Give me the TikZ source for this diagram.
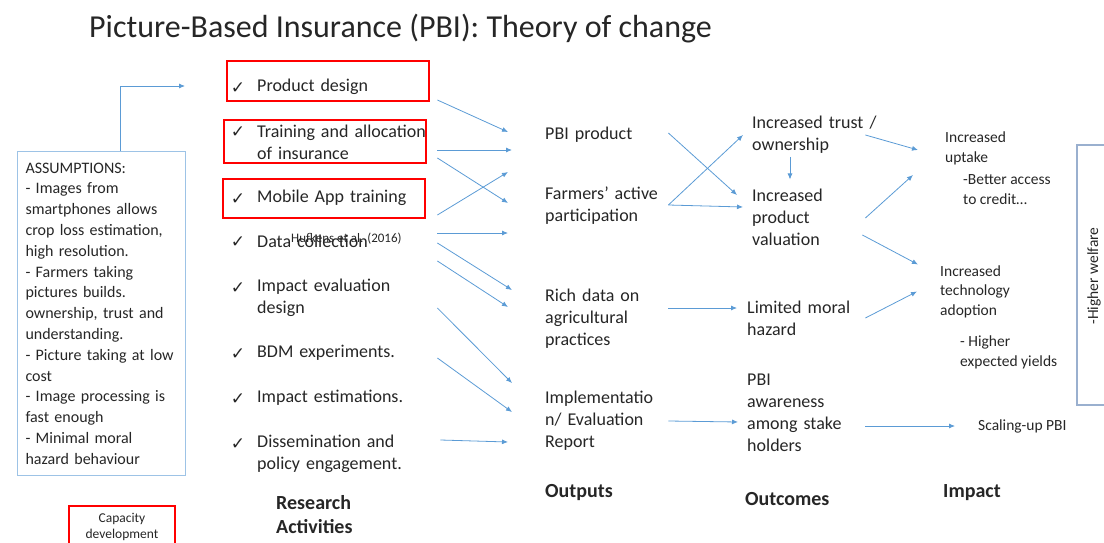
\documentclass[tikz,border=0pt]{standalone}
\usepackage{fontspec}
\setmainfont{Carlito}
\newfontfamily\symfont{DejaVu Sans}
\usetikzlibrary{arrows.meta}

\definecolor{ink}{HTML}{262626}
\definecolor{arrowblue}{HTML}{5B9BD5}
\definecolor{boxblue}{HTML}{9DC3E6}
\definecolor{welfblue}{HTML}{9AB0CF}

\tikzset{
  arr/.style={-{Latex[length=6pt,width=5pt]}, arrowblue, line width=0.8pt},
  redbox/.style={draw=red, line width=1.3pt},
  ttl/.style={anchor=west, inner sep=0, font=\fontsize{32}{38}\selectfont},
  asmbox/.style={draw=boxblue, line width=1pt, anchor=north west, text width=152pt,
    inner xsep=8pt, inner ysep=0, minimum height=324pt, align=left,
    font=\fontsize{16}{20.8}\selectfont},
  act/.style={anchor=west, inner sep=0, text width=180pt, align=left,
    font=\fontsize{18}{22}\selectfont},
  outp/.style={anchor=west, inner sep=0, text width=123pt, align=left,
    font=\fontsize{18}{22}\selectfont},
  outc/.style={anchor=west, inner sep=0, text width=125pt, align=left,
    font=\fontsize{18}{22}\selectfont},
  imp/.style={anchor=west, inner sep=0, align=left, font=\fontsize{15.5}{19.5}\selectfont},
  head/.style={anchor=west, inner sep=0, align=left, font=\bfseries\fontsize{20}{24}\selectfont},
  chk/.style={inner sep=0, font=\symfont\fontsize{17}{17}\selectfont},
  note/.style={anchor=west, inner sep=0, font=\fontsize{13}{15}\selectfont},
  capt/.style={inner sep=0, align=center, font=\fontsize{13.5}{16}\selectfont}
}

\begin{document}
\begin{tikzpicture}[x=1pt, y=-1pt, every node/.append style={text=ink}]
\useasboundingbox (0,0) rectangle (1104,543);

\node[ttl] (title) at (89,29) {Picture-Based Insurance (PBI): Theory of change};

\node[act] (pd) at (257,87) {Product design};
\node[act] (tr) at (257,142) {Training and allocation\\of insurance};
\node[act] (mob) at (257,198) {Mobile App training};
\node[act] (dc) at (257,241) {Data collection};
\node[act] (ie) at (257,298) {Impact evaluation\\design};
\node[act] (bdm) at (257,353) {BDM experiments.};
\node[act] (est) at (257,398) {Impact estimations.};
\node[act] (dis) at (257,454) {Dissemination and\\policy engagement.};
\node[note] (huf) at (291,239) {Hufkens et al. (2016)};
\foreach \n/\y in {pd/87,tr/131,mob/198,dc/241,ie/287,bdm/353,est/398,dis/443}
  \node[chk] (c-\n) at (238,\y+1) {✓};
\draw[redbox] (227,61) rectangle (429,101);
\draw[redbox] (224,120) rectangle (426,163);
\draw[redbox] (223,179) rectangle (425,218);
\node[head] (hra) at (276,515) {Research\\Activities};

\node[asmbox] (asm) at (17,151) {ASSUMPTIONS:\\- Images from\\smartphones allows\\crop loss estimation,\\high resolution.\\- Farmers taking\\pictures builds.\\ownership, trust and\\understanding.\\- Picture taking at low\\cost\\- Image processing is\\fast enough\\- Minimal moral\\hazard behaviour};
\draw[arr] ([xshift=19pt]asm.north) |- ([shift={(-72,-1)}]pd.west);
\draw[redbox] (69,543) |- (175,506) -- (175,543);
\node[capt] (cap) at (122,527) {Capacity\\development};

\node[outp] (pbi) at (545,135) {PBI product};
\node[outp] (farm) at (545,206) {Farmers’ active\\participation};
\node[outp] (rich) at (545,319) {Rich data on\\agricultural\\practices};
\node[outp] (impl) at (545,421) {Implementatio\\n/ Evaluation\\Report};
\node[head] (hout) at (545,493) {Outputs};

\node[outc] (trust) at (752,135) {Increased trust /\\ownership};
\node[outc] (val) at (752,217) {Increased\\product\\valuation};
\node[outc] (moral) at (747,318) {Limited moral\\hazard};
\node[outc] (aware) at (747,412.5) {PBI\\awareness\\among stake\\holders};
\node[head] (hoc) at (745,499) {Outcomes};

\node[imp] (up) at (945,148.5) {Increased\\uptake};
\node[imp] (cred) at (963,189.5) {-Better access\\to credit…};
\node[imp] (tech) at (940,291.5) {Increased\\technology\\adoption};
\node[imp] (yld) at (960,352.5) {- Higher\\expected yields};
\node[imp] (scale) at (978,426) {Scaling-up PBI};
\node[head] (himp) at (943,493) {Impact};
\draw[welfblue, line width=2.4pt] (1104,145) -| (1077,405) -- (1104,405);
\node[imp, rotate=90, anchor=center] (welf) at (1094,276) {-Higher welfare};

\draw[arr] ([shift={(0,13)}]pd.east) -- ([shift={(-37,-3)}]pbi.west);
\draw[arr] ([shift={(0,8)}]tr.east) -- ([shift={(-33,15)}]pbi.west);
\draw[arr] ([shift={(0,16)}]tr.east) -- ([shift={(-37,-3)}]farm.west);
\draw[arr] ([shift={(0,17)}]mob.east) -- ([shift={(-37,37)}]pbi.west);
\draw[arr] ([shift={(0,-8)}]dc.east) -- ([shift={(-37,27)}]farm.west);
\draw[arr] ([shift={(0,2)}]dc.east) -- ([shift={(-33,-29)}]rich.west);
\draw[arr] ([shift={(0,20)}]dc.east) -- ([shift={(-37,-12)}]rich.west);
\draw[arr] ([shift={(0,10)}]ie.east) -- ([shift={(-33,-38)}]impl.west);
\draw[arr] ([shift={(0,5)}]bdm.east) -- ([shift={(-33,-9)}]impl.west);
\draw[arr] ([shift={(3,-14)}]dis.east) -- ([shift={(-37,21)}]impl.west);

\draw[arr] ([shift={(0,-2)}]pbi.east) -- ([shift={(-15,-22)}]val.west);
\draw[arr] ([shift={(0,-1)}]farm.east) -- ([shift={(-9,0)}]trust.west);
\draw[arr] ([shift={(0,-1)}]farm.east) -- ([shift={(-9,-10)}]val.west);
\draw[arr] ([shift={(38,3)}]trust.south west) -- ([shift={(38,-9)}]val.north west);
\draw[arr] ([shift={(0,-11)}]rich.east) -- ([shift={(-10,-10)}]moral.west);
\draw[arr] (impl.east) -- ([shift={(-9,9.5)}]aware.west);

\draw[arr] ([shift={(-12,0)}]trust.east) -- ([shift={(-27,1.5)}]up.west);
\draw[arr] ([shift={(-12,1)}]val.east) -- ([shift={(-32,26.5)}]up.west);
\draw[arr] ([shift={(-15,18)}]val.east) -- ([shift={(-22,-27)}]tech.west);
\draw[arr] ([shift={(-7,0)}]moral.east) -- ([shift={(-23,0)}]tech.west);
\draw[arr] ([shift={(-7,13.5)}]aware.east) -- ([shift={(-23,0)}]scale.west);
\end{tikzpicture}
\end{document}
